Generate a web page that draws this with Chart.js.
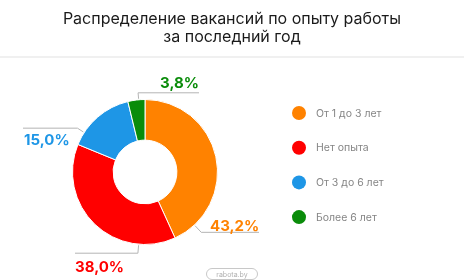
<!DOCTYPE html>
<html>
<head>
<meta charset="utf-8">
<script src="https://cdn.jsdelivr.net/npm/chart.js@4"></script>
<style>
  html, body { margin: 0; padding: 0; background: #fff; }
  #wrap { position: relative; width: 464px; height: 280px; }
</style>
</head>
<body>
<div id="wrap"><canvas id="expChart" width="464" height="280"></canvas></div>
<script>
const titleLines = ["Распределение вакансий по опыту работы", "за последний год"];
const categories = ["От 1 до 3 лет", "Нет опыта", "От 3 до 6 лет", "Более 6 лет"];
const shares = [43.2, 38.0, 15.0, 3.8];
const colors = ["#ff8200", "#ff0000", "#1e96e6", "#0a8c0a"];

// label leader lines: angle from top (deg), horizontal end x, text x, text y, align
const callouts = [
  { angle: 137, elbow: 10, endX: 259, tx: 210, ty: 226, align: "left" },
  { angle: 185, elbow: 9, endX: 75, tx: 75, ty: 267, align: "left" },
  { angle: 303, elbow: 8, endX: 23, tx: 24, ty: 140, align: "left" },
  { angle: 355, elbow: 7, endX: 199, tx: 199, ty: 83, align: "right" },
];

const decor = {
  id: "decor",
  afterDraw(chart) {
    const c = chart.ctx;
    c.save();
    // title
    c.fillStyle = "#1a1a1a";
    c.font = "16px Inter, 'Noto Sans', sans-serif";
    c.textAlign = "center";
    c.textBaseline = "middle";
    c.fillText(titleLines[0], 232, 19);
    c.fillText(titleLines[1], 232, 37);
    // separator
    c.fillStyle = "#f0f0f0";
    c.fillRect(0, 56, 464, 2);

    // callouts
    const arc = chart.getDatasetMeta(0).data[0];
    const cx = arc.x, cy = arc.y, r = arc.outerRadius;
    const fmt = v => v.toFixed(1).replace(".", ",") + "%";
    callouts.forEach((o, i) => {
      const a = o.angle * Math.PI / 180;
      const x1 = cx + (r + 1) * Math.sin(a), y1 = cy - (r + 1) * Math.cos(a);
      const x2 = cx + (r + o.elbow) * Math.sin(a), y2 = cy - (r + o.elbow) * Math.cos(a);
      c.strokeStyle = "#b4b4b4";
      c.lineWidth = 1;
      c.beginPath();
      c.moveTo(x1, y1);
      c.lineTo(x2, y2);
      c.lineTo(o.endX, y2);
      c.stroke();
      c.fillStyle = colors[i];
      c.font = "bold 15px Inter, 'Noto Sans', sans-serif";
      c.textAlign = o.align;
      c.textBaseline = "middle";
      c.fillText(fmt(shares[i]), o.tx, o.ty);
    });

    // legend
    categories.forEach((name, i) => {
      const y = 113 + i * 34.7;
      c.fillStyle = colors[i];
      c.beginPath();
      c.arc(299, y, 7, 0, Math.PI * 2);
      c.fill();
      c.fillStyle = "#858585";
      c.font = "10.5px Inter, 'Noto Sans', sans-serif";
      c.textAlign = "left";
      c.textBaseline = "middle";
      c.fillText(name, 316, y + 0.5);
    });

    // watermark
    c.strokeStyle = "#c8c8c8";
    c.lineWidth = 1;
    c.beginPath();
    c.roundRect(206.5, 268.5, 51, 11, 5.5);
    c.stroke();
    c.fillStyle = "#b0b0b0";
    c.font = "7px Inter, sans-serif";
    c.textAlign = "center";
    c.fillText("rabota.by", 232, 274.5);
    c.restore();
  }
};

new Chart(document.getElementById("expChart"), {
  type: "doughnut",
  data: {
    labels: categories,
    datasets: [{
      data: shares,
      backgroundColor: colors,
      borderColor: "#ffffff",
      borderWidth: 1,
      hoverOffset: 0,
    }],
  },
  options: {
    responsive: false,
    animation: false,
    cutout: "44%",
    layout: { padding: { left: 72, right: 246, top: 99, bottom: 35 } },
    plugins: {
      legend: { display: false },
      tooltip: { enabled: false },
    },
  },
  plugins: [decor],
});
</script>
</body>
</html>
